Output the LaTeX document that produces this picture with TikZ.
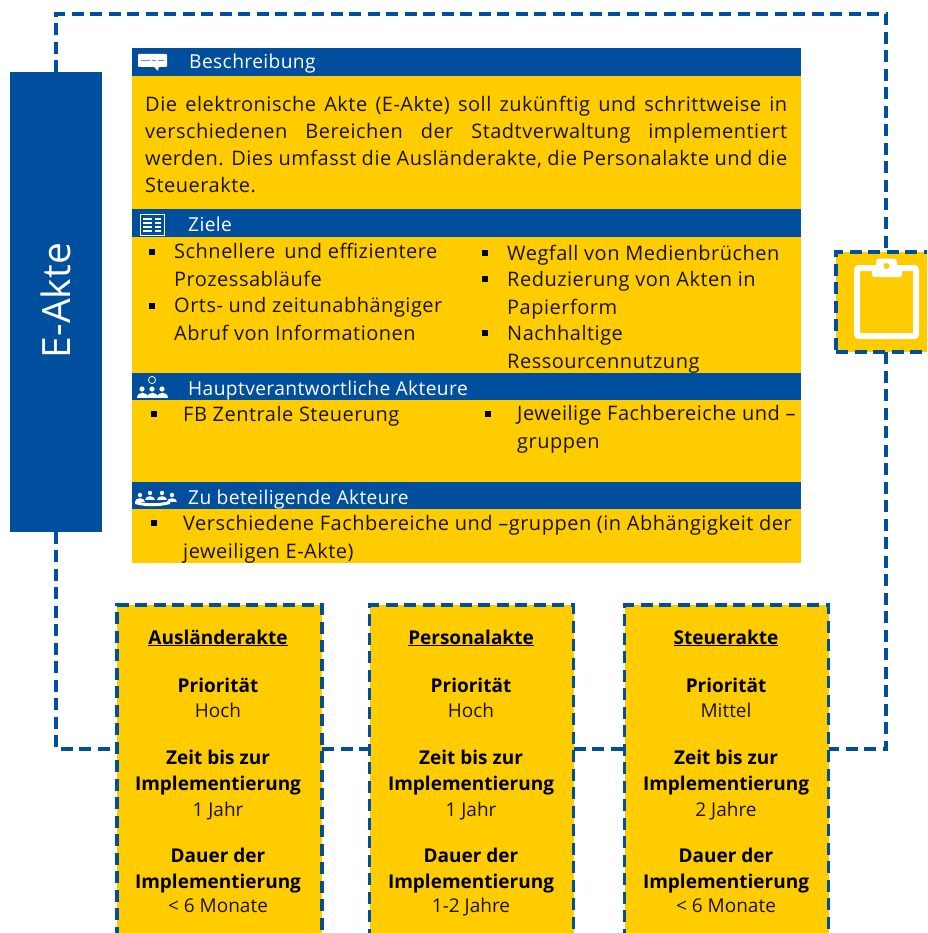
\documentclass[tikz,border=0pt]{standalone}
\usepackage{fontspec}
\setmainfont{Open Sans}
\newfontfamily\widefont[LetterSpace=2.5]{Open Sans}
\newfontfamily\headfont[LetterSpace=2]{Open Sans}
\usetikzlibrary{calc}
\definecolor{akteblue}{HTML}{004F9F}
\definecolor{akteyellow}{HTML}{FFCC00}
\definecolor{textblack}{HTML}{1A1400}
\tikzset{
  panel/.style={fill=akteyellow,draw=none,anchor=north west,inner sep=0pt,outer sep=0pt,minimum width=669pt},
  headbar/.style={fill=akteblue,draw=none,anchor=north west,inner sep=0pt,outer sep=0pt,minimum width=669pt,minimum height=28pt},
  headtext/.style={anchor=base west,inner sep=0pt,text=white,font=\headfont\fontsize{19.2}{22}\selectfont},
  bodytext/.style={anchor=base west,inner sep=0pt,text=textblack,align=left,font=\widefont\fontsize{20}{27.2}\selectfont},
  bulletmark/.style={fill=black,draw=none,minimum size=6pt,inner sep=0pt},
  dashline/.style={draw=akteblue,line width=3.6pt,dash pattern=on 12pt off 6.5pt},
  akte/.style={fill=akteyellow,dashline,anchor=north west,inner sep=0pt,outer sep=0pt,minimum height=360pt},
  aktetitle/.style={anchor=base,inner sep=0pt,text=black,font=\fontsize{19}{22}\selectfont\bfseries},
  aktehead/.style={anchor=base,inner sep=0pt,text=black,align=center,font=\fontsize{19}{25.5}\selectfont\bfseries},
  akteval/.style={anchor=base,inner sep=0pt,text=textblack,font=\fontsize{19}{22}\selectfont},
}
\newcommand{\jline}[1]{\makebox[642pt][s]{#1}}
\begin{document}
\begin{tikzpicture}[x=1pt,y=-1pt]
\useasboundingbox (0,0) rectangle (927,933);
\clip (0,0) rectangle (927,933);
% main column
\node[headbar] (hbesch) at (132,48) {};
\node[panel,minimum height=133pt] (pbesch) at (132,76) {};
\node[headbar] (hziele) at (132,209) {};
\node[panel,minimum height=136pt] (pziele) at (132,237) {};
\node[headbar,minimum height=27pt] (hhaupt) at (132,373) {};
\node[panel,minimum height=82pt] (phaupt) at (132,400) {};
\node[headbar,minimum height=27pt] (hzu) at (132,482) {};
\node[panel,minimum height=54pt] (pzu) at (132,509) {};
% side bar
\node[fill=akteblue,draw=none,anchor=north west,inner sep=0pt,outer sep=0pt,minimum width=92.5pt,minimum height=459pt] (eakte) at (9.5,72.5) {};
\node[rotate=90,text=white,inner sep=0pt,font=\fontsize{39}{44}\selectfont] (eaktetext) at (56,300.5) {E-Akte};
% clipboard box
\node[fill=akteyellow,dashline,anchor=north west,inner sep=0pt,outer sep=0pt,minimum width=120pt,minimum height=100pt] (clip) at (836,252) {};
% akte boxes
\node[akte,minimum width=205pt] (ausl) at (117,605) {};
\node[akte,minimum width=204pt] (pers) at (369.5,605) {};
\node[akte,minimum width=204pt] (steu) at (624.5,605) {};
% dashed connectors
\coordinate (ctl) at (56,14);
\coordinate (ctr) at (886,14);
\coordinate (cbl) at (56,749);
\coordinate (cbr) at (886,749);
\coordinate (ctop) at (886,252);
\coordinate (cbot) at (886,352);
\draw[dashline] (eakte.north -| ctl) -- (ctl) -- (ctr) -- (ctop);
\draw[dashline] (cbot) -- (cbr) -- (steu.east |- cbr);
\draw[dashline] (eakte.south -| cbl) -- (cbl) -- (ausl.west |- cbl);
\draw[dashline] (ausl.east |- cbl) -- (pers.west |- cbl);
\draw[dashline] (pers.east |- cbl) -- (steu.west |- cbl);
% clipboard icon
\draw[draw=white,line width=6pt,rounded corners=2pt] (857,268) rectangle (916,336);
\fill[white,rounded corners=1.5pt] (872,277) -- (872,270) -- (876,270) -- (876,263) .. controls (876,260) and (878,258.5) .. (881,258.5) -- (892,258.5) .. controls (895,258.5) and (897,260) .. (897,263) -- (897,270) -- (902,270) -- (902,277) -- cycle;
\fill[akteyellow] (886.5,266) circle (3pt);
% header icons
\fill[white,rounded corners=1pt] (138,54) rectangle (167,67);
\fill[white] (153,66) -- (159,66) -- (158,71) -- cycle;
\draw[akteblue!60!white,line width=1pt] (141,60.5) -- (150,60.5) (152,60.5) -- (156,60.5) (158,60.5) -- (164,60.5);
\draw[white,line width=1pt] (140,215) rectangle (164,235);
\foreach \yy in {219,223,227,231}{\draw[white,line width=1.1pt] (143,\yy) -- (152,\yy) (155,\yy) -- (161,\yy);}
\foreach \xx in {142,152,162}{
  \fill[white] (\xx-5.5,397.5) .. controls (\xx-5.5,391) and (\xx+5.5,391) .. (\xx+5.5,397.5) -- cycle;
  \fill[white] (\xx,389) circle (2.6pt);
}
\draw[white,line width=0.8pt] (152,380) circle (3.6pt);
\foreach \xx/\yy in {136/500,146/498,158/498,168/500}{
  \fill[white] (\xx-1,\yy+2) .. controls (\xx-1,\yy-3) and (\xx+9,\yy-3) .. (\xx+9,\yy+2) -- cycle;
  \fill[white] (\xx+4,\yy-5) circle (2.2pt);
}
\fill[white] (135,501) .. controls (146,504) and (159,504) .. (170,501) -- (170,504) .. controls (159,507) and (146,507) .. (135,504) -- cycle;
% headers
\node[headtext] (tbesch) at (189,69) {Beschreibung};
\node[headtext] (tziele) at (188,231) {Ziele};
\node[headtext] (thaupt) at (188,395) {Hauptverantwortliche Akteure};
\node[headtext] (tzu) at (188,504) {Zu beteiligende Akteure};
% description
\node[bodytext] (descr) at (145,193) {\jline{Die elektronische Akte (E-Akte) soll zukünftig und schrittweise in}\\\jline{verschiedenen Bereichen der Stadtverwaltung implementiert}\\\jline{werden. Dies umfasst die Ausländerakte, die Personalakte und die}\\Steuerakte.};
% Ziele
\node[bulletmark] (b1) at (152,252) {};
\node[bodytext] (z1) at (174,286) {Schnellere\hspace{9pt}und effizientere\\Prozessabläufe};
\node[bulletmark] (b2) at (152,306) {};
\node[bodytext] (z2) at (174,340) {Orts- und zeitunabhängiger\\Abruf von Informationen};
\node[bulletmark] (b3) at (485,253) {};
\node[bodytext] (z3) at (507,260) {Wegfall von Medienbrüchen};
\node[bulletmark] (b4) at (485,279) {};
\node[bodytext] (z4) at (507,314) {Reduzierung von Akten in\\Papierform};
\node[bulletmark] (b5) at (485,333) {};
\node[bodytext] (z5) at (507,368) {Nachhaltige\\Ressourcennutzung};
% Haupt
\node[bulletmark] (b6) at (154,414) {};
\node[bodytext] (h1) at (183,421) {FB Zentrale Steuerung};
\node[bulletmark] (b7) at (488,414) {};
\node[bodytext] (h2) at (517,448) {Jeweilige Fachbereiche und –\\gruppen};
% Zu
\node[bulletmark] (b8) at (154,523) {};
\node[bodytext] (zb) at (183,558) {Verschiedene Fachbereiche und –gruppen (in Abhängigkeit der\\jeweiligen E-Akte)};
% Akte texts
\foreach \nm/\xc/\ti/\pr/\ze/\da in {a/218/Ausländerakte/Hoch/1 Jahr/{< 6 Monate},p/471/Personalakte/Hoch/1 Jahr/1-2 Jahre,s/726/Steuerakte/Mittel/2 Jahre/{< 6 Monate}}{
  \node[aktetitle] (\nm t) at (\xc,644) {\underline{\ti}};
  \node[aktehead] (\nm p) at (\xc,692) {Priorität};
  \node[akteval] (\nm v) at (\xc,717) {\pr};
  \node[aktehead] (\nm z) at (\xc,790) {Zeit bis zur\\Implementierung};
  \node[akteval] (\nm w) at (\xc,816) {\ze};
  \node[aktehead] (\nm d) at (\xc,888) {Dauer der\\Implementierung};
  \node[akteval] (\nm x) at (\xc,912) {\da};
}
\end{tikzpicture}
\end{document}
